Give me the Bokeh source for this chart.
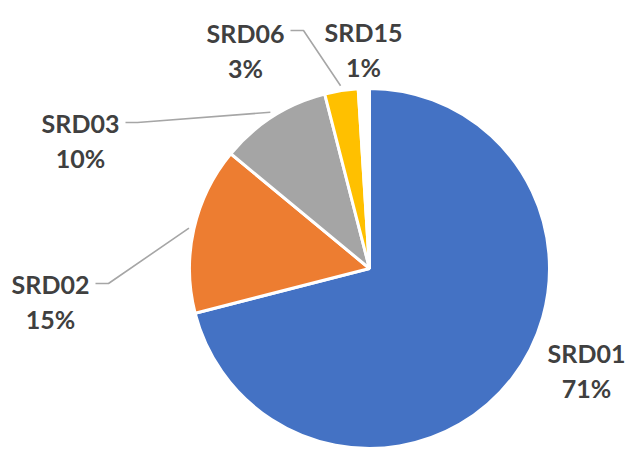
import math
from bokeh.plotting import figure
from bokeh.models import Range1d, ColumnDataSource
from bokeh.core.properties import value
from bokeh.embed import file_html
from bokeh.resources import INLINE

# ---- data ----
categories = ["SRD01", "SRD02", "SRD03", "SRD06", "SRD15"]
values = [71, 15, 10, 3, 1]
colors = ["#4472C4", "#ED7D31", "#A5A5A5", "#FFC000", "#FFFFFF"]

# ---- layout (page pixel coordinates) ----
W, H = 628, 449
OFF = 0
CX, CY = 369, 268          # pie centre
R = 180                     # pie radius
# label anchor: (x centre, baseline of name line)
label_pos = {
    "SRD01": (586, 352),
    "SRD02": (50, 283),
    "SRD03": (80, 122),
    "SRD06": (245, 32),
    "SRD15": (363, 31),
}
LINE_GAP = 35
# leader line start (elbow) for labels that have one: (start_x, elbow_x, y)
leaders = {
    "SRD02": (95, 108, 283),
    "SRD03": (125, 137, 122),
    "SRD06": (290, 303, 30),
}
LEADER_R = 185


def dx(px):
    return px - OFF


def dy(py):
    return H - (py - OFF)


p = figure(width=W, height=H, output_backend="svg", toolbar_location=None,
           x_range=Range1d(0, W), y_range=Range1d(0, H),
           x_axis_location=None, y_axis_location=None, min_border=0,
           background_fill_color="white", border_fill_color="white")
p.grid.visible = False
p.outline_line_color = None

total = float(sum(values))
starts, ends, mids = [], [], []
cum = 0.0
for v in values:
    a0 = math.pi / 2 - 2 * math.pi * cum / total
    a1 = math.pi / 2 - 2 * math.pi * (cum + v) / total
    starts.append(a0)
    ends.append(a1)
    mids.append((a0 + a1) / 2)
    cum += v

src = ColumnDataSource(dict(cat=categories, val=values, color=colors,
                            start=starts, end=ends))
p.wedge(x=dx(CX), y=dy(CY), radius=R, start_angle="start", end_angle="end",
        direction="clock", fill_color="color", line_color="white",
        line_width=3, source=src)

# leader lines
xs, ys = [], []
for cat, mid in zip(categories, mids):
    if cat in leaders:
        sx, ex, ly = leaders[cat]
        tx = dx(CX) + LEADER_R * math.cos(mid)
        ty = dy(CY) + LEADER_R * math.sin(mid)
        xs.append([dx(sx), dx(ex), tx])
        ys.append([dy(ly), dy(ly), ty])
p.multi_line(xs=xs, ys=ys, line_color="#A6A6A6", line_width=1.6)

# labels
lx = [dx(label_pos[c][0]) for c in categories]
ly1 = [dy(label_pos[c][1]) for c in categories]
ly2 = [dy(label_pos[c][1] + LINE_GAP) for c in categories]
pct = [f"{round(100 * v / total)}%" for v in values]
lsrc = ColumnDataSource(dict(x=lx, y1=ly1, y2=ly2, name=categories, pct=pct))
for ycol, tcol in (("y1", "name"), ("y2", "pct")):
    p.text(x="x", y=ycol, text=tcol, source=lsrc, text_align="center",
           text_baseline="alphabetic", text_font=value("Lato"),
           text_font_style="bold", text_font_size="25px",
           text_color="#404040")

open("out.html", "w").write(file_html(p, INLINE))
